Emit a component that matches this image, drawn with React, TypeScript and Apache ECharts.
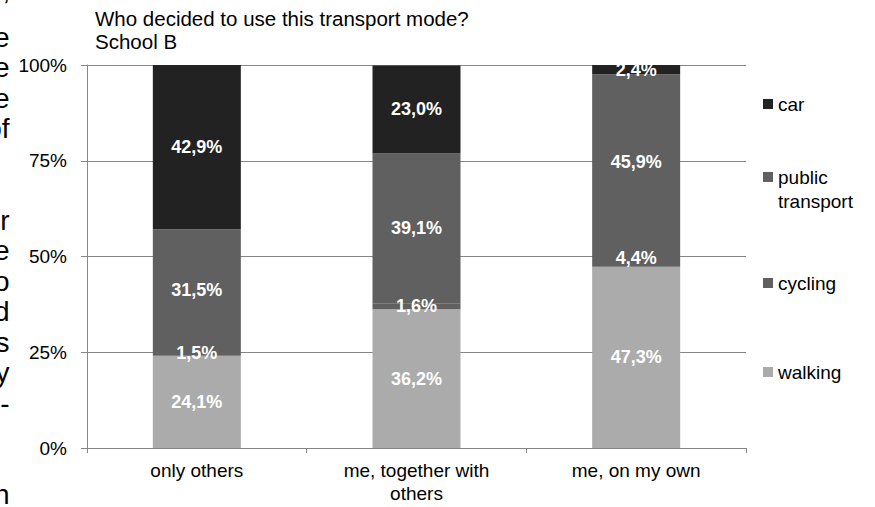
import React, { useEffect, useRef } from "react";
import * as echarts from "echarts";

// Who decided on the transport mode, by answer group (School B), shares in %
const categories = ["only others", "me, together with\nothers", "me, on my own"];
const walking = [24.1, 36.2, 47.3];
const cycling = [1.5, 1.6, 4.4];
const publicTransport = [31.5, 39.1, 45.9];
const car = [42.9, 23.0, 2.4];
const yTicks = [0, 25, 50, 75, 100];

// clipped words of the surrounding document text on the left margin
const marginLetters = ["’", "e", "e", "e", "of", "", "", "r", "e", "o", "d", "s", "y", "-", "", "", "n"];

const FONT = "'Liberation Sans', Arial, Helvetica, sans-serif";
const GRID = "#868686";

const fmt = (v: number) => v.toFixed(1).replace(".", ",") + "%";

export default function App() {
  const ref = useRef<HTMLDivElement>(null);

  useEffect(() => {
    if (!ref.current) return;
    const chart = echarts.init(ref.current, undefined, { renderer: "svg" });

    const mkSeries = (name: string, data: number[], color: string) => ({
      name,
      type: "bar",
      stack: "total",
      data,
      barWidth: 88,
      itemStyle: { color },
      label: {
        show: true,
        position: "inside",
        color: "#ffffff",
        fontWeight: "bold",
        fontSize: 18,
        fontFamily: FONT,
        formatter: (p: any) => fmt(p.value),
      },
    });

    const legendBase = {
      orient: "vertical",
      left: 763,
      padding: 0,
      itemWidth: 10,
      itemHeight: 10,
      icon: "rect",
      selectedMode: false,
      textStyle: { fontSize: 19, color: "#000", fontFamily: FONT, lineHeight: 24 },
    };

    const lineH = 30.5;
    const letterGraphics = marginLetters
      .map((t, i) => ({ t, y: 6.5 + lineH * i }))
      .filter((d) => d.t !== "")
      .map((d) => ({
        type: "text",
        style: {
          text: d.t,
          x: 9.5,
          y: d.y,
          textAlign: "right",
          textVerticalAlign: "middle",
          font: `28px ${FONT}`,
          fill: "#000",
        },
      }));

    chart.setOption({
      animation: false,
      textStyle: { fontFamily: FONT },
      title: {
        text: "Who decided to use this transport mode?\nSchool B",
        left: 95,
        top: 7,
        padding: 0,
        textStyle: { fontSize: 20.5, fontWeight: "normal", color: "#000", lineHeight: 23, fontFamily: FONT },
      },
      legend: [
        { ...legendBase, top: 92, data: ["car"] },
        { ...legendBase, top: 165, data: ["public transport"], formatter: () => "public" },
        { ...legendBase, top: 271, data: ["cycling"] },
        { ...legendBase, top: 360, data: ["walking"] },
      ],
      grid: { left: 87, right: 129, top: 65, bottom: 59, containLabel: false },
      xAxis: {
        type: "category",
        data: categories,
        axisLine: { lineStyle: { color: GRID, width: 1 } },
        axisTick: { show: true, length: 5, lineStyle: { color: GRID } },
        axisLabel: { fontSize: 19, color: "#000", margin: 11, lineHeight: 23, fontFamily: FONT },
      },
      yAxis: {
        type: "value",
        min: yTicks[0],
        max: yTicks[yTicks.length - 1],
        interval: 25,
        axisLine: { show: true, lineStyle: { color: GRID, width: 1 } },
        axisTick: { show: true, length: 6, lineStyle: { color: GRID } },
        splitLine: { lineStyle: { color: GRID, width: 1 } },
        axisLabel: { fontSize: 19, color: "#000", margin: 20, formatter: "{value}%", fontFamily: FONT },
      },
      graphic: [
        ...letterGraphics,
        // second line of the "public transport" legend entry
        {
          type: "text",
          style: {
            text: "transport",
            x: 778,
            y: 201,
            textVerticalAlign: "middle",
            font: `19px ${FONT}`,
            fill: "#000",
          },
        },
      ],
      series: [
        mkSeries("walking", walking, "#ababab"),
        mkSeries("cycling", cycling, "#606060"),
        mkSeries("public transport", publicTransport, "#606060"),
        mkSeries("car", car, "#222222"),
      ],
    });

    return () => chart.dispose();
  }, []);

  return (
    <div
      ref={ref}
      style={{ position: "fixed", left: 0, top: 0, width: 875, height: 507, background: "#fff" }}
    />
  );
}
